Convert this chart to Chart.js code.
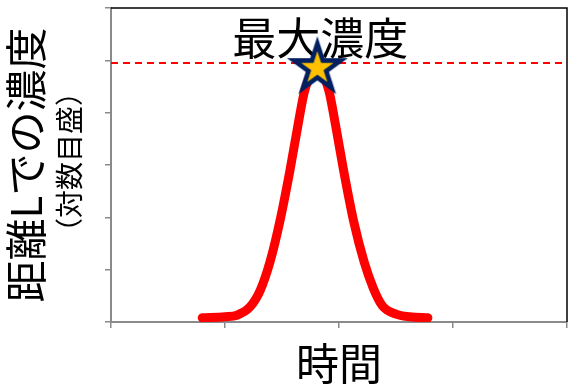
<!DOCTYPE html>
<html>
<head>
<meta charset="utf-8">
<script src="https://cdn.jsdelivr.net/npm/chart.js@4/dist/chart.umd.min.js"></script>
<style>
html,body{margin:0;padding:0;background:#fff;}
#wrap{width:577px;height:390px;position:relative;}
</style>
</head>
<body>
<div id="wrap"><canvas id="c" width="577" height="390"></canvas></div>
<script>
// ---- data ----
const timeValues = [0.80, 1.00, 1.105, 1.22, 1.31, 1.395, 1.48, 1.57, 1.64, 1.70, 1.81, 1.91, 1.97, 2.04, 2.13, 2.22, 2.30, 2.38, 2.50, 2.62, 2.78];
const concentrationValues = [0.08, 0.10, 0.13, 0.29, 0.61, 1.15, 1.91, 2.90, 3.76, 4.43, 4.85, 4.43, 3.76, 2.90, 1.91, 1.15, 0.65, 0.31, 0.15, 0.10, 0.08];
const peakTime = [1.81];
const peakValue = [4.85];
const maxLineTimes = [0, 4];
const maxLineValues = [4.95, 4.95];
const xTickRange = [0, 4];
const yTickRange = [0, 6];
const peakLabel = "最大濃度";
const yTitleMain = "距離Lでの濃度";
const yTitleSub = "（対数目盛）";
const xTitle = "時間";

const FONT = '"Noto Sans CJK JP", "Noto Sans", sans-serif';
const AXIS_GRAY = '#8a8a8a';

// star marker image
function makeStar(R, r) {
  const s = Math.ceil(R * 2 + 4);
  const cv = document.createElement('canvas');
  cv.width = s; cv.height = s;
  const g = cv.getContext('2d');
  const cx = s / 2, cy = s / 2;
  function star(RR, color) {
    g.beginPath();
    for (let i = 0; i < 10; i++) {
      const a = -Math.PI / 2 + i * Math.PI / 5;
      const k = (i % 2 === 0) ? 1 : 0.382;
      const px = cx + k * RR * Math.cos(a);
      const py = cy + k * RR * Math.sin(a);
      if (i === 0) g.moveTo(px, py); else g.lineTo(px, py);
    }
    g.closePath();
    g.fillStyle = color;
    g.fill();
  }
  star(R, '#002060');
  star(r, '#FFC000');
  return cv;
}
const starImg = makeStar(32, 17);

const curve = timeValues.map((t, i) => ({x: t, y: concentrationValues[i]}));
const peak = peakTime.map((t, i) => ({x: t, y: peakValue[i]}));
const maxLine = maxLineTimes.map((t, i) => ({x: t, y: maxLineValues[i]}));

const framePlugin = {
  id: 'frame',
  beforeDatasetsDraw(chart) {
    const {ctx, chartArea: a, scales} = chart;
    ctx.save();
    ctx.strokeStyle = '#000';
    ctx.lineWidth = 1.5;
    ctx.beginPath();
    ctx.moveTo(a.left, a.top);
    ctx.lineTo(a.right, a.top);
    ctx.lineTo(a.right, a.bottom);
    ctx.stroke();
    // peak label
    ctx.fillStyle = '#000';
    ctx.font = '44px ' + FONT;
    ctx.textAlign = 'center';
    ctx.textBaseline = 'middle';
    const px = scales.x.getPixelForValue(peakTime[0]);
    ctx.fillText(peakLabel, px + 3, a.top + 30);
    ctx.restore();
  },
  afterDraw(chart) {
    const {ctx, chartArea: a} = chart;
    ctx.save();
    ctx.fillStyle = '#000';
    ctx.textAlign = 'center';
    ctx.textBaseline = 'middle';
    // y titles
    ctx.save();
    ctx.translate(26, (a.top + a.bottom) / 2);
    ctx.rotate(-Math.PI / 2);
    ctx.font = '42px ' + FONT;
    ctx.fillText(yTitleMain, 0, 0);
    ctx.restore();
    ctx.save();
    ctx.translate(69, (a.top + a.bottom) / 2 - 3);
    ctx.rotate(-Math.PI / 2);
    ctx.font = '28px ' + FONT;
    ctx.fillText(yTitleSub, 0, 0);
    ctx.restore();
    // x title
    ctx.font = '43px ' + FONT;
    ctx.fillText(xTitle, (a.left + a.right) / 2, a.bottom + 42);
    ctx.restore();
  }
};

new Chart(document.getElementById('c'), {
  type: 'scatter',
  data: {
    datasets: [
      {
        label: 'peak',
        data: peak,
        showLine: false,
        pointStyle: starImg,
        pointRadius: 1,
        pointHoverRadius: 1,
        pointBorderWidth: 0,
        order: 0
      },
      {
        label: 'curve',
        data: curve,
        showLine: true,
        borderColor: '#FF0000',
        borderWidth: 9,
        borderCapStyle: 'round',
        borderJoinStyle: 'round',
        cubicInterpolationMode: 'monotone',
        pointRadius: 0,
        pointHoverRadius: 0,
        fill: false,
        order: 1
      },
      {
        label: 'max',
        data: maxLine,
        showLine: true,
        borderColor: '#FF0000',
        borderWidth: 2,
        borderDash: [7, 5],
        pointRadius: 0,
        pointHoverRadius: 0,
        fill: false,
        order: 2
      }
    ]
  },
  options: {
    responsive: false,
    animation: false,
    events: [],
    layout: {padding: {left: 105, right: 10, top: 8, bottom: 62}},
    plugins: {legend: {display: false}, tooltip: {enabled: false}, title: {display: false}},
    scales: {
      x: {
        type: 'linear',
        min: xTickRange[0], max: xTickRange[1],
        ticks: {display: false, stepSize: 1},
        grid: {drawOnChartArea: false, drawTicks: true, tickLength: 6, color: AXIS_GRAY, lineWidth: 1.5},
        border: {display: true, color: AXIS_GRAY, width: 2}
      },
      y: {
        type: 'linear',
        min: yTickRange[0], max: yTickRange[1],
        ticks: {display: false, stepSize: 1},
        grid: {drawOnChartArea: false, drawTicks: true, tickLength: 6, color: AXIS_GRAY, lineWidth: 1.5},
        border: {display: true, color: AXIS_GRAY, width: 2}
      }
    }
  },
  plugins: [framePlugin]
});
</script>
</body>
</html>
